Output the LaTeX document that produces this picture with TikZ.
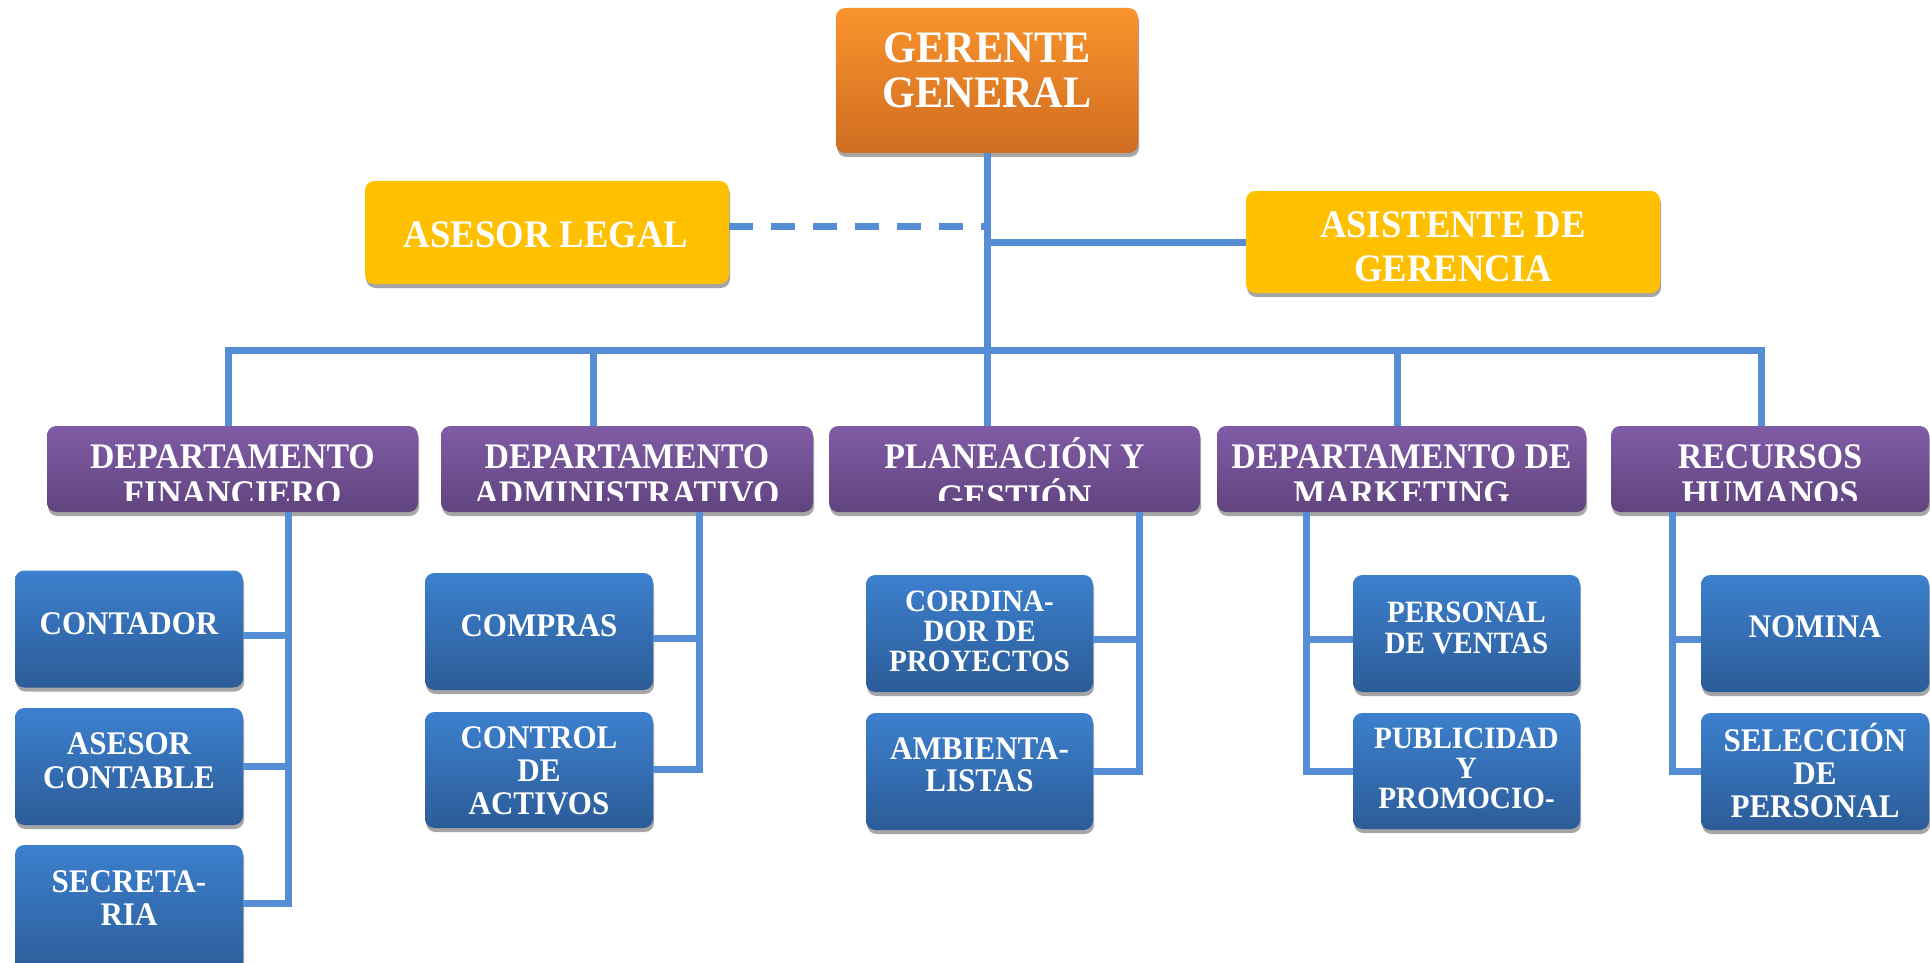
\documentclass[tikz,border=0pt]{standalone}
\usepackage{fontspec}
\setmainfont{Liberation Serif}[FakeStretch=0.94]
\usetikzlibrary{shadows}
\definecolor{connblue}{RGB}{85,142,213}
\definecolor{orangetop}{RGB}{250,148,45}
\definecolor{orangebot}{RGB}{207,108,32}
\definecolor{gold}{RGB}{255,192,0}
\definecolor{purptop}{RGB}{128,92,166}
\definecolor{purpbot}{RGB}{96,68,126}
\definecolor{bluetop}{RGB}{60,128,206}
\definecolor{bluebot}{RGB}{44,92,152}
\newcommand\ml[1]{\begin{tabular}[t]{@{}c@{}}#1\end{tabular}}
\newcommand\setfs[2]{\fontsize{#1}{#2}\selectfont\bfseries}
\tikzset{
  sz/.style 2 args={minimum width=#1*0.75pt, minimum height=#2*0.75pt},
  boxbase/.style={rectangle, rounded corners=7pt, inner sep=0pt,
    drop shadow={shadow xshift=0.8pt, shadow yshift=-3pt, fill=black!35, opacity=1}},
  orangebox/.style={boxbase, top color=orangetop, bottom color=orangebot},
  yellowbox/.style={boxbase, fill=gold},
  purplebox/.style={boxbase, top color=purptop, bottom color=purpbot},
  bluebox/.style={boxbase, top color=bluetop, bottom color=bluebot},
  txt/.style={text=white, inner sep=0pt, anchor=base},
  conn/.style={draw=connblue, line width=5.25pt},
}
\begin{document}
\begin{tikzpicture}[x=0.75pt,y=-0.75pt]
\useasboundingbox (0,0) rectangle (1930,963);
\clip (0,0) rectangle (1930,963);
\fill[white] (0,0) rectangle (1930,963);

% ---------- boxes ----------
\node[orangebox, sz={302}{145}] (gg) at (987,80.5) {};
\node[yellowbox, sz={364}{103}] (al) at (547,232.5) {};
\node[yellowbox, sz={414}{102}] (ag) at (1453,242) {};

\node[purplebox, sz={371}{86}] (d1) at (232.5,469) {};
\node[purplebox, sz={372}{86}] (d2) at (627,469) {};
\node[purplebox, sz={371}{86}] (d3) at (1014.5,469) {};
\node[purplebox, sz={369}{86}] (d4) at (1401.5,469) {};
\node[purplebox, sz={318}{86}] (d5) at (1770,469) {};

\node[bluebox, sz={228}{117}] (c11) at (129,629) {};
\node[bluebox, sz={228}{117}] (c12) at (129,766.5) {};
\node[bluebox, sz={228}{130}] (c13) at (129,910) {};
\node[bluebox, sz={228}{117}] (c21) at (539,631.5) {};
\node[bluebox, sz={228}{116}] (c22) at (539,770) {};
\node[bluebox, sz={227}{117}] (c31) at (979.5,633.5) {};
\node[bluebox, sz={227}{117}] (c32) at (979.5,771.5) {};
\node[bluebox, sz={227}{117}] (c41) at (1466.5,633.5) {};
\node[bluebox, sz={227}{116}] (c42) at (1466.5,771) {};
\node[bluebox, sz={228}{117}] (c51) at (1815,633.5) {};
\node[bluebox, sz={228}{117}] (c52) at (1815,771.5) {};

% ---------- texts ----------
\node[txt, font={\setfs{33.75pt}{33.75pt}}] (gg-t) at (987,63) {\ml{GERENTE\\GENERAL}};
\node[txt, font={\setfs{29.25pt}{33pt}}] (al-t) at (546,247) {ASESOR LEGAL};
\node[txt, font={\setfs{29.25pt}{33pt}}] (ag-t) at (1453,237) {\ml{ASISTENTE DE\\GERENCIA}};

\begin{scope}
  \clip (d1.north west) rectangle ([yshift=9pt]d1.south east);
  \node[txt, font={\setfs{27pt}{27.75pt}}] (d1-t) at (232.5,468) {\ml{DEPARTAMENTO\\FINANCIERO}};
\end{scope}
\begin{scope}
  \clip (d2.north west) rectangle ([yshift=9pt]d2.south east);
  \node[txt, font={\setfs{27pt}{27.75pt}}] (d2-t) at (627,468) {\ml{DEPARTAMENTO\\ADMINISTRATIVO}};
\end{scope}
\begin{scope}
  \clip (d3.north west) rectangle ([yshift=9pt]d3.south east);
  \node[txt, font={\setfs{27pt}{27.75pt}}] (d3-t) at (1014.5,468) {\ml{PLANEACIÓN Y\\GESTIÓN}};
\end{scope}
\begin{scope}
  \clip (d4.north west) rectangle ([yshift=9pt]d4.south east);
  \node[txt, font={\setfs{27pt}{27.75pt}}] (d4-t) at (1401.5,468) {\ml{DEPARTAMENTO DE\\MARKETING}};
\end{scope}
\begin{scope}
  \clip (d5.north west) rectangle ([yshift=9pt]d5.south east);
  \node[txt, font={\setfs{27pt}{27.75pt}}] (d5-t) at (1770,468) {\ml{RECURSOS\\HUMANOS}};
\end{scope}

\node[txt, font={\setfs{24.75pt}{24.75pt}}] (c11-t) at (129,634) {CONTADOR};
\node[txt, font={\setfs{24.75pt}{25.5pt}}] (c12-t) at (129,754) {\ml{ASESOR\\CONTABLE}};
\node[txt, font={\setfs{24.75pt}{24.75pt}}] (c13-t) at (129,892) {\ml{SECRETA-\\RIA}};
\node[txt, font={\setfs{24.75pt}{24.75pt}}] (c21-t) at (539,636) {COMPRAS};
\node[txt, font={\setfs{24.75pt}{24.75pt}}] (c22-t) at (539,748) {\ml{CONTROL\\DE\\ACTIVOS}};
\node[txt, font={\setfs{23.25pt}{22.5pt}}] (c31-t) at (979.5,611) {\ml{CORDINA-\\DOR DE\\PROYECTOS}};
\node[txt, font={\setfs{24.75pt}{24pt}}] (c32-t) at (979.5,759) {\ml{AMBIENTA-\\LISTAS}};
\node[txt, font={\setfs{23.25pt}{23.25pt}}] (c41-t) at (1466.5,622) {\ml{PERSONAL\\DE VENTAS}};
\node[txt, font={\setfs{23.25pt}{22.5pt}}] (c42-t) at (1466.5,748) {\ml{PUBLICIDAD\\Y\\PROMOCIO-}};
\node[txt, font={\setfs{24.75pt}{24.75pt}}] (c51-t) at (1815,637) {NOMINA};
\node[txt, font={\setfs{24.75pt}{24.75pt}}] (c52-t) at (1815,751) {\ml{SELECCIÓN\\DE\\PERSONAL}};

% ---------- upper connectors ----------
\coordinate (bus) at (987,350);
\coordinate (t1) at (228,426);
\coordinate (t2) at (593,426);
\coordinate (t4) at (1397,426);
\coordinate (t5) at (1761,426);
\draw[conn] (gg.south) -- (gg.south |- d3.north);
\draw[conn] (t1) -- (t1 |- bus) -- (t5 |- bus) -- (t5);
\draw[conn] (t2) -- (t2 |- bus);
\draw[conn] (t4) -- (t4 |- bus);
\coordinate (dl) at ([yshift=4.5pt]al.east);
\draw[conn, dash pattern=on 18pt off 13.5pt] (dl) -- (gg.south |- dl);
\draw[conn] (ag.west) -- (gg.south |- ag.west);

% ---------- lower connectors ----------
\coordinate (s1) at (288,512);
\coordinate (k11) at ([yshift=-4.5pt]c11.east);
\coordinate (k12) at (c12.east);
\coordinate (k13) at ([yshift=5.25pt]c13.east);
\draw[conn] (s1) |- (k13);
\draw[conn] (k11) -- (s1 |- k11);
\draw[conn] (k12) -- (s1 |- k12);

\coordinate (s2) at (699,512);
\coordinate (k21) at ([yshift=-4.875pt]c21.east);
\coordinate (k22) at ([yshift=0.75pt]c22.east);
\draw[conn] (s2) |- (k22);
\draw[conn] (k21) -- (s2 |- k21);

\coordinate (s3) at (1139,512);
\coordinate (k31) at ([yshift=-4.125pt]c31.east);
\coordinate (k32) at (c32.east);
\draw[conn] (s3) |- (k32);
\draw[conn] (k31) -- (s3 |- k31);

\coordinate (s4) at (1306,512);
\coordinate (k41) at ([yshift=-4.125pt]c41.west);
\coordinate (k42) at (c42.west);
\draw[conn] (s4) |- (k42);
\draw[conn] (k41) -- (s4 |- k41);

\coordinate (s5) at (1672,512);
\coordinate (k51) at ([yshift=-4.125pt]c51.west);
\coordinate (k52) at (c52.west);
\draw[conn] (s5) |- (k52);
\draw[conn] (k51) -- (s5 |- k51);
\end{tikzpicture}
\end{document}
